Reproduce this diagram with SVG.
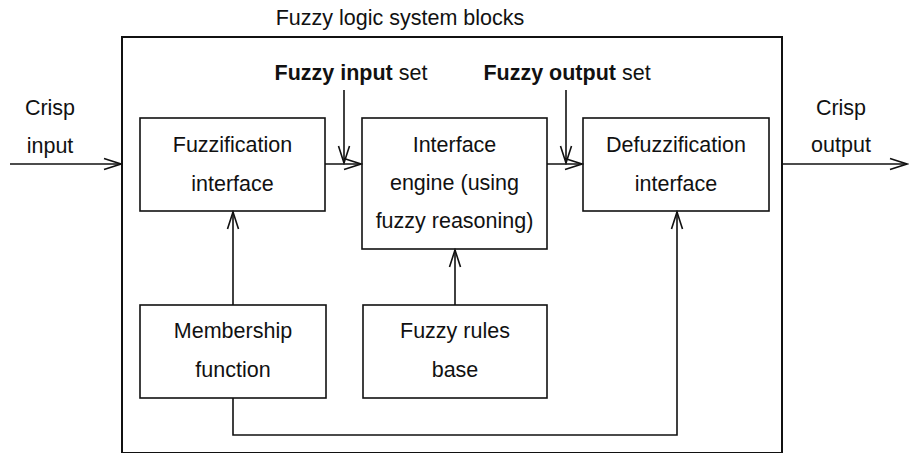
<svg xmlns="http://www.w3.org/2000/svg" width="909" height="453" viewBox="0 0 909 453">
<style>
text{font-family:"Liberation Sans",Arial,sans-serif;font-size:21.5px;fill:#111;text-anchor:middle}
.b{font-weight:bold}
.box{fill:#fff;stroke:#111;stroke-width:1.6}
.c{fill:none;stroke:#111;stroke-width:1.6}
</style>
<defs>
<marker id="ah" viewBox="0 0 20 14" refX="18" refY="7" markerWidth="20" markerHeight="14" markerUnits="userSpaceOnUse" orient="auto">
<path d="M1,1.5 L18,7 L1,12.5" fill="none" stroke="#111" stroke-width="1.6"/>
</marker>
</defs>
<rect x="0" y="0" width="909" height="453" fill="#fff"/>
<g id="system">
<rect x="122" y="37" width="660" height="416" fill="none" stroke="#111" stroke-width="2"/>
<text x="400" y="25">Fuzzy logic system blocks</text>
</g>
<g id="fuzzification">
<rect class="box" x="140" y="118" width="185" height="93"/>
<text x="232.5" y="152">Fuzzification</text>
<text x="232.5" y="191">interface</text>
</g>
<g id="engine">
<rect class="box" x="362" y="118" width="185" height="131"/>
<text x="454.5" y="152">Interface</text>
<text x="454.5" y="190">engine (using</text>
<text x="454.5" y="228">fuzzy reasoning)</text>
</g>
<g id="defuzzification">
<rect class="box" x="583" y="118" width="186" height="93"/>
<text x="676" y="152">Defuzzification</text>
<text x="676" y="191">interface</text>
</g>
<g id="membership">
<rect class="box" x="140" y="305" width="186" height="93"/>
<text x="233" y="338">Membership</text>
<text x="233" y="377">function</text>
</g>
<g id="rules">
<rect class="box" x="363" y="305" width="184" height="93"/>
<text x="455" y="338">Fuzzy rules</text>
<text x="455" y="377">base</text>
</g>
<g id="labels">
<text x="50" y="115">Crisp</text>
<text x="50" y="153">input</text>
<text x="841" y="115">Crisp</text>
<text x="841" y="152">output</text>
<text x="351" y="80"><tspan class="b">Fuzzy input</tspan> set</text>
<text x="567" y="80"><tspan class="b">Fuzzy output</tspan> set</text>
</g>
<g id="connectors">
<line class="c" x1="10" y1="164" x2="121" y2="164" marker-end="url(#ah)"/>
<line class="c" x1="325" y1="164" x2="361" y2="164" marker-end="url(#ah)"/>
<line class="c" x1="344" y1="90" x2="344" y2="163" marker-end="url(#ah)"/>
<line class="c" x1="547" y1="164" x2="582" y2="164" marker-end="url(#ah)"/>
<line class="c" x1="566" y1="90" x2="566" y2="163" marker-end="url(#ah)"/>
<line class="c" x1="782" y1="164" x2="907" y2="164" marker-end="url(#ah)"/>
<line class="c" x1="233" y1="305" x2="233" y2="212" marker-end="url(#ah)"/>
<line class="c" x1="455" y1="305" x2="455" y2="250" marker-end="url(#ah)"/>
<polyline class="c" points="233,398 233,435 677,435 677,212" marker-end="url(#ah)"/>
</g>
</svg>
